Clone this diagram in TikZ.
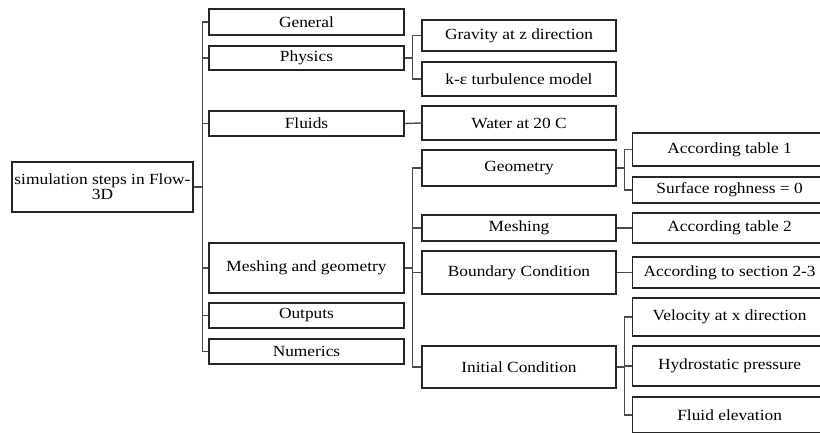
\documentclass[tikz,border=0pt]{standalone}
\usepackage{fontspec}
\usepackage{graphicx}
\setmainfont{Liberation Serif}
\newcommand{\wt}[1]{\scalebox{1.12}[1]{#1}}
\tikzset{
  box/.style={draw=black!85, line width=1.2pt, fill=white, inner sep=0pt, align=center,
    font=\fontsize{15.5}{15}\selectfont},
  lone/.style={box, minimum width=195pt},
  ltwo/.style={box, minimum width=194pt},
  lthree/.style={box, minimum width=194pt, anchor=west},
  conn/.style={draw=black!70, line width=1.4pt},
}
\begin{document}
\begin{tikzpicture}[x=1pt,y=-1pt]
\clip (0,0) rectangle (820,433);
\fill[white] (0,0) rectangle (820,433);
% root
\node[box, minimum width=181pt, minimum height=50pt] (root) at (102.5,187) {\wt{simulation steps in Flow-}\\\wt{3D}};
% level 1
\node[lone, minimum height=26pt] (gen) at (306.5,22) {\wt{General}};
\node[lone, minimum height=24pt] (phy) at (306.5,58) {\wt{Physics}};
\node[lone, minimum height=25pt] (flu) at (306.5,123.5) {\wt{Fluids}};
\node[lone, minimum height=50pt] (mg) at (306.5,268) {\wt{Meshing and geometry}};
\node[lone, minimum height=25pt] (out) at (306.5,315.5) {\wt{Outputs}};
\node[lone, minimum height=25pt] (num) at (306.5,351.5) {\wt{Numerics}};
% level 2
\node[ltwo, minimum height=31pt] (grav) at (519,35.5) {\wt{Gravity at z direction}};
\node[ltwo, minimum height=34pt] (keps) at (519,79) {\wt{k-ε turbulence model}};
\node[ltwo, minimum height=34pt] (wat) at (519,123) {\wt{Water at 20 C}};
\node[ltwo, minimum height=36pt] (geo) at (519,168) {\wt{Geometry}};
\node[ltwo, minimum height=26pt] (mesh) at (519,228) {\wt{Meshing}};
\node[ltwo, minimum height=43pt] (bc) at (519,272.5) {\wt{Boundary Condition}};
\node[ltwo, minimum height=42pt] (ic) at (519,367) {\wt{Initial Condition}};
% level 3
\node[lthree, minimum height=33pt] (t1) at (632,149.5) {\wt{According table 1}};
\node[lthree, minimum height=26pt] (sr) at (632,190) {\wt{Surface roghness = 0}};
\node[lthree, minimum height=30pt] (t2) at (632,228) {\wt{According table 2}};
\node[lthree, minimum height=31pt] (sec) at (632,272.5) {\wt{According to section 2-3}};
\node[lthree, minimum height=38pt] (vel) at (632,317) {\wt{Velocity at x direction}};
\node[lthree, minimum height=40pt] (hyd) at (632,366) {\wt{Hydrostatic pressure}};
\node[lthree, minimum height=36pt] (fe) at (632,415) {\wt{Fluid elevation}};
% connectors root
\foreach \c in {gen,phy,flu,mg,out,num}
  \draw[conn] (root.east) -- ++(9,0) |- (\c.west);
% physics
\foreach \c in {grav,keps}
  \draw[conn] (phy.east) -- ++(8,0) |- (\c.west);
\draw[conn] (flu.east) -- (wat.west);
% meshing and geometry
\foreach \c in {geo,mesh,bc,ic}
  \draw[conn] (mg.east) -- ++(8,0) |- (\c.west);
% geometry
\foreach \c in {t1,sr}
  \draw[conn] (geo.east) -- ++(8,0) |- (\c.west);
\draw[conn] (mesh.east) -- (t2.west);
\draw[conn] (bc.east) -- (sec.west);
\foreach \c in {vel,hyd,fe}
  \draw[conn] (ic.east) -- ++(8,0) |- (\c.west);
\end{tikzpicture}
\end{document}
